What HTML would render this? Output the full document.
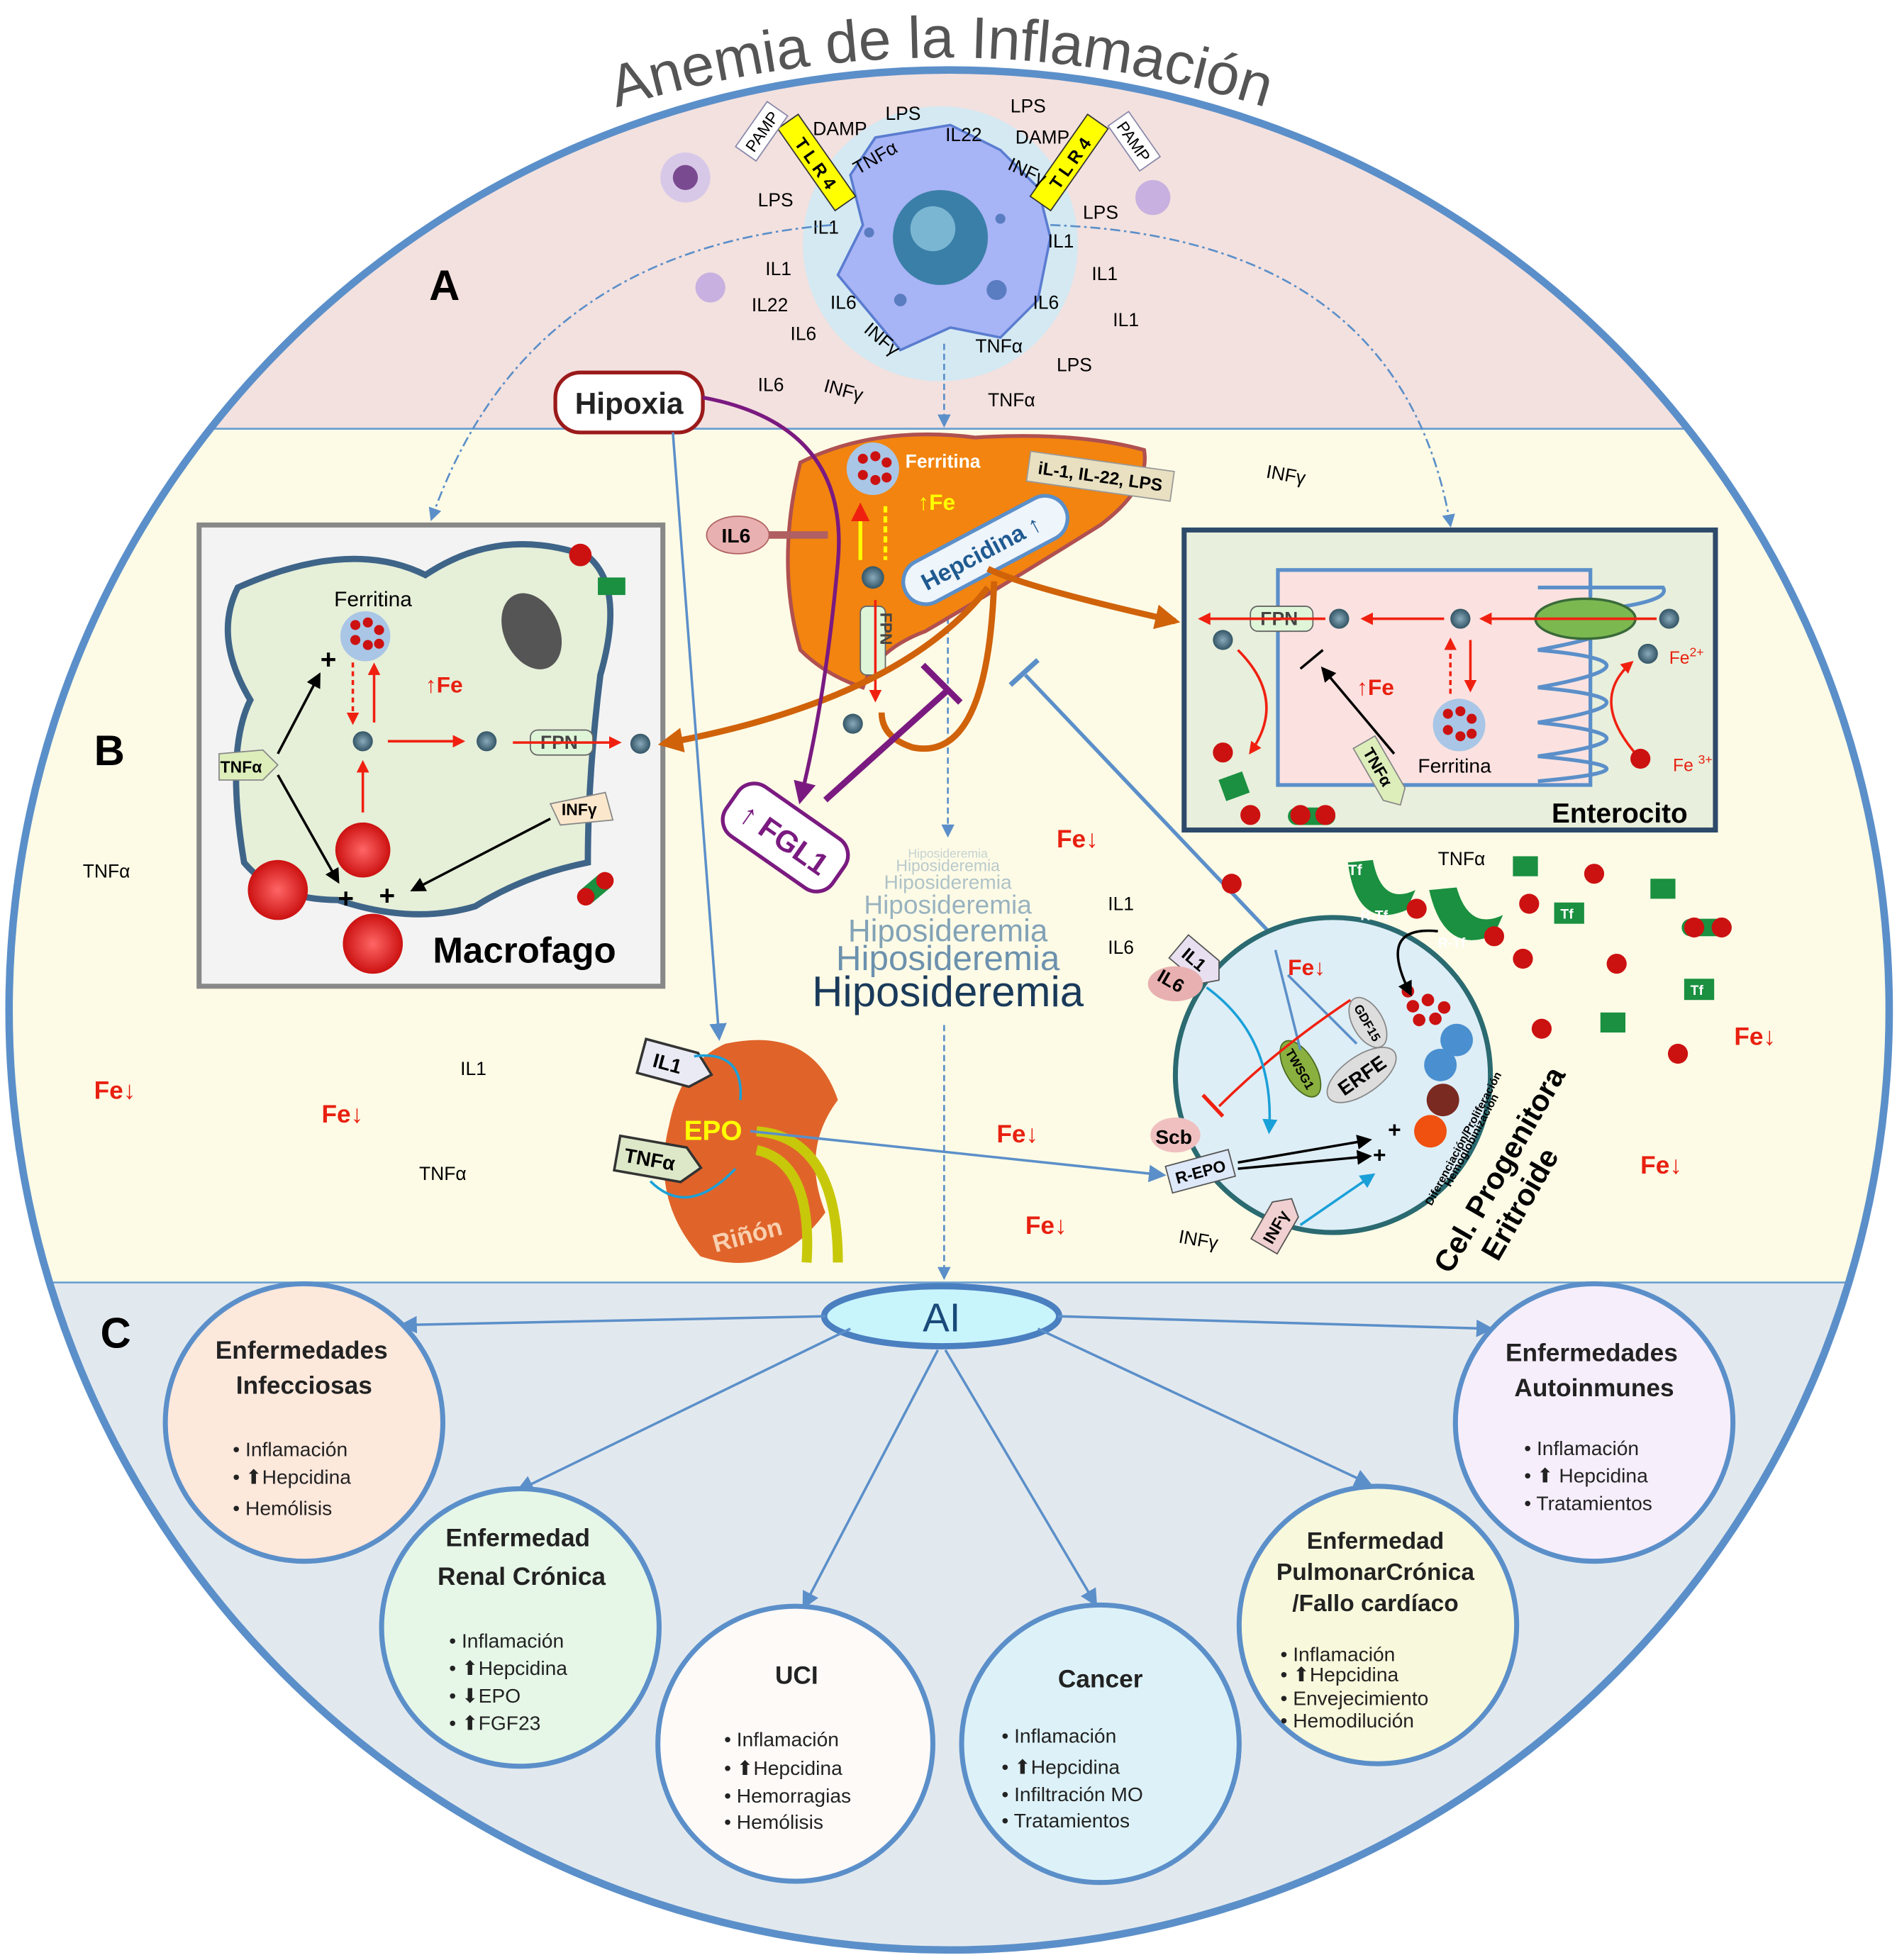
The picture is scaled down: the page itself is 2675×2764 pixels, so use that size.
<!DOCTYPE html>
<html><head><meta charset="utf-8"><style>
html,body{margin:0;padding:0;background:#fff}
svg{display:block}
text{font-family:"Liberation Sans",sans-serif}
</style></head><body>
<svg width="2675" height="2764" viewBox="0 0 1517 1568" xmlns="http://www.w3.org/2000/svg">
<defs>
<clipPath id="cc"><circle cx="759" cy="808" r="752"/></clipPath>
<marker id="ab" viewBox="0 0 10 10" refX="8" refY="5" markerWidth="7" markerHeight="7" orient="auto"><path d="M0,0L10,5L0,10z" fill="#5b8fc9"/></marker>
<marker id="ar" viewBox="0 0 10 10" refX="8" refY="5" markerWidth="5" markerHeight="5" orient="auto"><path d="M0,0L10,5L0,10z" fill="#f02010"/></marker>
<marker id="ak" viewBox="0 0 10 10" refX="8" refY="5" markerWidth="6" markerHeight="6" orient="auto"><path d="M0,0L10,5L0,10z" fill="#000"/></marker>
<marker id="ao" viewBox="0 0 10 10" refX="8" refY="5" markerWidth="4" markerHeight="4" orient="auto"><path d="M0,0L10,5L0,10z" fill="#d0620a"/></marker>
<marker id="ap" viewBox="0 0 10 10" refX="8" refY="5" markerWidth="6" markerHeight="6" orient="auto"><path d="M0,0L10,5L0,10z" fill="#7a1a80"/></marker>
<marker id="ac" viewBox="0 0 10 10" refX="8" refY="5" markerWidth="6" markerHeight="6" orient="auto"><path d="M0,0L10,5L0,10z" fill="#1aa0d8"/></marker>
<radialGradient id="rb"><stop offset="0" stop-color="#f66"/><stop offset="1" stop-color="#c11"/></radialGradient>
<radialGradient id="bl"><stop offset="0" stop-color="#8ab"/><stop offset="1" stop-color="#356"/></radialGradient>
<path id="arc" d="M480,90 Q759,2 1025,90"/>
</defs>
<rect width="1517" height="1568" fill="#fff"/>
<text font-size="47" fill="#555"><textPath href="#arc" startOffset="50%" text-anchor="middle">Anemia de la Inflamación</textPath></text>
<g clip-path="url(#cc)">
<rect x="0" y="0" width="1517" height="343" fill="#f3e1df"/>
<rect x="0" y="343" width="1517" height="683" fill="#fdfbe6"/>
<rect x="0" y="1026" width="1517" height="560" fill="#e2e9ee"/>
<line x1="0" y1="343" x2="1517" y2="343" stroke="#6a9fd0" stroke-width="1.5"/>
<line x1="0" y1="1026" x2="1517" y2="1026" stroke="#6a9fd0" stroke-width="1.5"/>
</g>
<circle cx="759" cy="808" r="752" fill="none" stroke="#5b8fc9" stroke-width="6"/>
<text x="343" y="240" font-size="34" font-weight="bold">A</text>
<text x="75" y="612" font-size="34" font-weight="bold">B</text>
<text x="80" y="1078" font-size="34" font-weight="bold">C</text>
<!-- immune cell -->
<circle cx="752" cy="195" r="110" fill="#bfefff" opacity=".6"/>
<path d="M700,110 L760,100 L800,120 L830,150 L840,190 L830,240 L800,270 L760,262 L720,280 L695,250 L670,220 L690,180 L680,140 Z" fill="#a7b4f5" stroke="#5a7cd0" stroke-width="2"/>
<circle cx="752" cy="190" r="38" fill="#3a7fa8"/>
<circle cx="746" cy="183" r="18" fill="#7ab6d2"/>
<circle cx="797" cy="232" r="8" fill="#5a7cc0"/><circle cx="720" cy="240" r="5" fill="#5a7cc0"/><circle cx="695" cy="186" r="4" fill="#5a7cc0"/><circle cx="800" cy="175" r="4" fill="#5a7cc0"/>
<circle cx="548" cy="142" r="20" fill="#d8c8e8"/><circle cx="548" cy="142" r="10" fill="#7a4a90"/>
<circle cx="922" cy="158" r="14" fill="#c8b0e0"/><circle cx="568" cy="230" r="12" fill="#c8b0e0"/>
<g transform="translate(653,130) rotate(55)"><rect x="-40" y="-10" width="80" height="20" fill="#ff0" stroke="#333"/><text x="0" y="6" font-size="14" font-weight="bold" text-anchor="middle">T L R 4</text></g>
<g transform="translate(855,130) rotate(-55)"><rect x="-40" y="-10" width="80" height="20" fill="#ff0" stroke="#333"/><text x="0" y="6" font-size="14" font-weight="bold" text-anchor="middle">T L R 4</text></g>
<g transform="translate(609,105) rotate(-55)"><rect x="-22" y="-10" width="44" height="20" fill="#fff" stroke="#88a"/><text x="0" y="5" font-size="13" text-anchor="middle">PAMP</text></g>
<g transform="translate(907,113) rotate(55)"><rect x="-22" y="-10" width="44" height="20" fill="#fff" stroke="#88a"/><text x="0" y="5" font-size="13" text-anchor="middle">PAMP</text></g>
<g font-size="15">
<text x="650" y="108">DAMP</text><text x="708" y="96">LPS</text><text x="756" y="113">IL22</text><text x="808" y="90">LPS</text><text x="812" y="115">DAMP</text>
<text x="686" y="140" transform="rotate(-30 686 140)">TNFα</text><text x="805" y="135" transform="rotate(25 805 135)">INFγ</text>
<text x="606" y="165">LPS</text><text x="650" y="187">IL1</text><text x="838" y="198">IL1</text><text x="866" y="175">LPS</text>
<text x="612" y="220">IL1</text><text x="601" y="249">IL22</text><text x="664" y="247">IL6</text><text x="826" y="247">IL6</text><text x="873" y="224">IL1</text>
<text x="632" y="272">IL6</text><text x="890" y="261">IL1</text><text x="690" y="265" transform="rotate(40 690 265)">INFγ</text><text x="780" y="282">TNFα</text><text x="845" y="297">LPS</text>
<text x="606" y="313">IL6</text><text x="658" y="313" transform="rotate(15 658 313)">INFγ</text><text x="790" y="325">TNFα</text><text x="1012" y="382" transform="rotate(10 1012 382)">INFγ</text>
<text x="66" y="702">TNFα</text><text x="368" y="860">IL1</text><text x="335" y="944">TNFα</text><text x="886" y="728">IL1</text><text x="886" y="763">IL6</text><text x="1150" y="692">TNFα</text><text x="942" y="994" transform="rotate(10 942 994)">INFγ</text>
</g>
<!-- dashed connectors -->
<path d="M665,180 Q420,200 345,415" fill="none" stroke="#5b8fc9" stroke-width="1.5" stroke-dasharray="8,3,2,3" marker-end="url(#ab)"/>
<path d="M840,180 Q1120,190 1160,420" fill="none" stroke="#5b8fc9" stroke-width="1.5" stroke-dasharray="8,3,2,3" marker-end="url(#ab)"/>
<line x1="755" y1="275" x2="755" y2="340" stroke="#5b8fc9" stroke-width="1.5" stroke-dasharray="5,3" marker-end="url(#ab)"/>
<line x1="758" y1="470" x2="758" y2="668" stroke="#5b8fc9" stroke-width="1.5" stroke-dasharray="5,3" marker-end="url(#ab)"/>
<line x1="755" y1="820" x2="755" y2="1022" stroke="#5b8fc9" stroke-width="1.5" stroke-dasharray="5,3" marker-end="url(#ab)"/>
<!-- macrophage box -->
<rect x="159" y="420" width="371" height="369" fill="#f3f3f3" stroke="#888" stroke-width="4"/>
<path d="M190,470 Q280,430 340,460 Q400,420 470,445 Q500,470 480,540 Q470,620 470,690 Q420,700 380,725 Q330,740 270,720 Q220,720 195,690 Q180,600 200,560 Q170,510 190,470Z" fill="#e6efd8" stroke="#3e6488" stroke-width="5"/>
<ellipse cx="425" cy="505" rx="22" ry="32" fill="#555" transform="rotate(-25 425 505)"/>
<circle cx="292" cy="509" r="20" fill="#a9c6e6"/><g fill="#c11"><circle cx="284" cy="500" r="4"/><circle cx="294" cy="498" r="4"/><circle cx="303" cy="504" r="4"/><circle cx="284" cy="512" r="4"/><circle cx="294" cy="516" r="4"/><circle cx="303" cy="515" r="4"/></g>
<text x="267" y="485" font-size="17">Ferritina</text>
<text x="340" y="554" font-size="18" font-weight="bold" fill="#e82010">↑Fe</text>
<circle cx="290" cy="593" r="8" fill="url(#bl)"/><circle cx="389" cy="593" r="8" fill="url(#bl)"/><circle cx="512" cy="595" r="8" fill="url(#bl)"/>
<rect x="424" y="584" width="50" height="20" rx="6" fill="#dff5d8" stroke="#666"/><text x="432" y="599" font-size="15" font-weight="bold" fill="#444">FPN</text>
<line x1="310" y1="593" x2="370" y2="593" stroke="#f02010" stroke-width="2" marker-end="url(#ar)"/>
<line x1="410" y1="594" x2="495" y2="594" stroke="#f02010" stroke-width="2" marker-end="url(#ar)"/>
<line x1="290" y1="650" x2="290" y2="610" stroke="#f02010" stroke-width="2" marker-end="url(#ar)"/>
<line x1="282" y1="530" x2="282" y2="578" stroke="#f02010" stroke-width="2" stroke-dasharray="4,3" marker-end="url(#ar)"/>
<line x1="299" y1="578" x2="299" y2="532" stroke="#f02010" stroke-width="2" marker-end="url(#ar)"/>
<circle cx="290" cy="680" r="22" fill="url(#rb)"/><circle cx="222" cy="712" r="24" fill="url(#rb)"/><circle cx="298" cy="755" r="24" fill="url(#rb)"/>
<circle cx="464" cy="444" r="9" fill="#c11"/><rect x="478" y="462" width="22" height="14" fill="#1a9040"/>
<path d="M175,603 L210,600 L222,612 L210,624 L175,624Z" fill="#ddeebb" stroke="#888"/><text x="176" y="618" font-size="13" font-weight="bold">TNFα</text>
<path d="M440,643 L484,634 L490,656 L448,660Z" fill="#fbe8cc" stroke="#888"/><text x="449" y="652" font-size="13" font-weight="bold">INFγ</text>
<line x1="222" y1="603" x2="255" y2="540" stroke="#000" stroke-width="2" marker-end="url(#ak)"/>
<line x1="222" y1="620" x2="270" y2="705" stroke="#000" stroke-width="2" marker-end="url(#ak)"/>
<line x1="440" y1="655" x2="330" y2="712" stroke="#000" stroke-width="2" marker-end="url(#ak)"/>
<text x="256" y="535" font-size="22" font-weight="bold">+</text><text x="270" y="726" font-size="22" font-weight="bold">+</text><text x="303" y="724" font-size="22" font-weight="bold">+</text>
<g transform="rotate(-40 476 711)"><rect x="460" y="704" width="32" height="14" rx="7" fill="#1a9040"/><circle cx="466" cy="711" r="7" fill="#c11"/><circle cx="486" cy="711" r="7" fill="#c11"/></g>
<text x="346" y="770" font-size="29" font-weight="bold">Macrofago</text>
<!-- enterocyte box -->
<rect x="947" y="424" width="425" height="240" fill="#e8efdc" stroke="#2e4a6a" stroke-width="4"/>
<rect x="1022" y="456" width="250" height="172" fill="#fbe2e0" stroke="#5b8fc9" stroke-width="3"/>
<path d="M1230,470 L1330,470 Q1340,485 1230,492 Q1340,500 1230,520 Q1340,530 1230,550 Q1340,560 1230,578 Q1340,590 1230,605 Q1340,615 1230,625" fill="none" stroke="#5b8fc9" stroke-width="3"/>
<ellipse cx="1268" cy="495" rx="40" ry="16" fill="#7cb850" stroke="#3a6a3a" stroke-width="2"/>
<circle cx="1335" cy="495" r="8" fill="url(#bl)"/><circle cx="1168" cy="495" r="8" fill="url(#bl)"/><circle cx="1071" cy="495" r="8" fill="url(#bl)"/><circle cx="978" cy="512" r="8" fill="url(#bl)"/><circle cx="1318" cy="523" r="8" fill="url(#bl)"/>
<rect x="1000" y="485" width="50" height="20" rx="6" fill="#dff5d8" stroke="#666"/><text x="1008" y="500" font-size="15" font-weight="bold" fill="#444">FPN</text>
<line x1="1325" y1="495" x2="1185" y2="495" stroke="#f02010" stroke-width="2" marker-end="url(#ar)"/>
<line x1="1155" y1="495" x2="1090" y2="495" stroke="#f02010" stroke-width="2" marker-end="url(#ar)"/>
<line x1="1060" y1="495" x2="960" y2="495" stroke="#f02010" stroke-width="2" marker-end="url(#ar)"/>
<line x1="1160" y1="555" x2="1160" y2="512" stroke="#f02010" stroke-width="2" stroke-dasharray="4,3" marker-end="url(#ar)"/>
<line x1="1176" y1="512" x2="1176" y2="552" stroke="#f02010" stroke-width="2" marker-end="url(#ar)"/>
<path d="M990,520 Q1030,560 1000,602" fill="none" stroke="#f02010" stroke-width="2" marker-end="url(#ar)"/>
<path d="M1310,605 Q1270,560 1305,530" fill="none" stroke="#f02010" stroke-width="2" marker-end="url(#ar)"/>
<circle cx="1167" cy="580" r="21" fill="#a9c6e6"/><g fill="#c11"><circle cx="1158" cy="571" r="4"/><circle cx="1168" cy="569" r="4"/><circle cx="1177" cy="575" r="4"/><circle cx="1158" cy="584" r="4"/><circle cx="1168" cy="589" r="4"/><circle cx="1177" cy="587" r="4"/></g>
<text x="1134" y="618" font-size="16">Ferritina</text>
<text x="1085" y="556" font-size="18" font-weight="bold" fill="#e82010">↑Fe</text>
<text x="1335" y="531" font-size="14" fill="#e82010">Fe<tspan font-size="10" dy="-6">2+</tspan></text>
<text x="1338" y="617" font-size="14" fill="#e82010">Fe <tspan font-size="10" dy="-6">3+</tspan></text>
<circle cx="1312" cy="607" r="8" fill="#c11"/><circle cx="978" cy="602" r="8" fill="#c11"/><circle cx="1000" cy="652" r="8" fill="#c11"/>
<rect x="1030" y="646" width="38" height="14" rx="7" fill="#1a9040"/><circle cx="1040" cy="652" r="8" fill="#c11"/><circle cx="1060" cy="652" r="8" fill="#c11"/>
<rect x="977" y="620" width="20" height="18" fill="#1a9040" transform="rotate(-20 987 629)"/>
<line x1="1115" y1="603" x2="1058" y2="535" stroke="#000" stroke-width="2" marker-end="url(#ak)"/>
<line x1="1040" y1="535" x2="1058" y2="520" stroke="#000" stroke-width="2"/>
<g transform="translate(1105,618) rotate(60)"><path d="M-28,-10 L20,-10 L30,0 L20,10 L-28,10Z" fill="#ddeebb" stroke="#888"/><text x="-22" y="5" font-size="13" font-weight="bold">TNFα</text></g>
<text x="1241" y="658" font-size="22" font-weight="bold">Enterocito</text>
<!-- liver -->
<path d="M640,370 Q700,340 780,350 Q860,345 915,360 Q920,390 880,420 Q800,470 740,505 Q700,520 690,550 Q660,540 640,520 Q620,450 640,370Z" fill="#f2840f" stroke="#b05050" stroke-width="3"/>
<circle cx="698" cy="375" r="21" fill="#a9c6e6"/><g fill="#c11"><circle cx="690" cy="367" r="4"/><circle cx="700" cy="365" r="4"/><circle cx="709" cy="370" r="4"/><circle cx="690" cy="380" r="4"/><circle cx="700" cy="384" r="4"/><circle cx="709" cy="382" r="4"/></g>
<text x="724" y="374" font-size="15" font-weight="bold" fill="#fff">Ferritina</text>
<text x="734" y="408" font-size="18" font-weight="bold" fill="#ff0">↑Fe</text>
<line x1="688" y1="448" x2="688" y2="405" stroke="#ff0" stroke-width="3" marker-end="url(#ar)"/>
<line x1="708" y1="405" x2="708" y2="448" stroke="#ff0" stroke-width="3" stroke-dasharray="5,3"/>
<circle cx="698" cy="462" r="9" fill="url(#bl)"/>
<rect x="688" y="485" width="20" height="55" rx="5" fill="#dff5d8" stroke="#666"/><text x="704" y="490" font-size="13" font-weight="bold" fill="#444" transform="rotate(90 704 490)">FPN</text>
<line x1="700" y1="480" x2="700" y2="560" stroke="#f02010" stroke-width="2" marker-end="url(#ar)"/>
<circle cx="682" cy="579" r="8" fill="url(#bl)"/>
<g transform="translate(880,381) rotate(8)"><rect x="-58" y="-12" width="116" height="24" fill="#e8e0c0" stroke="#999"/><text x="0" y="5" font-size="14" font-weight="bold" text-anchor="middle">iL-1, IL-22, LPS</text></g>
<ellipse cx="590" cy="428" rx="25" ry="15" fill="#e8b0b0" stroke="#b06060"/><text x="577" y="434" font-size="16" font-weight="bold">IL6</text>
<line x1="615" y1="428" x2="662" y2="428" stroke="#b06060" stroke-width="6"/>
<g transform="translate(788,440) rotate(-28)"><rect x="-72" y="-18" width="144" height="36" rx="18" fill="#eef5fb" stroke="#5b8fc9" stroke-width="3"/><text x="-4" y="7" font-size="19" font-weight="bold" fill="#1f5a90" text-anchor="middle">Hepcidina ↑</text></g>
<!-- orange arrows -->
<path d="M790,455 Q820,470 940,497" fill="none" stroke="#d0620a" stroke-width="5" marker-end="url(#ao)"/>
<path d="M790,470 Q720,560 530,595" fill="none" stroke="#d0620a" stroke-width="5" marker-end="url(#ao)"/>
<path d="M795,465 Q790,610 730,598 Q705,590 705,570" fill="none" stroke="#d0620a" stroke-width="5"/>
<!-- hipoxia -->
<rect x="444" y="298" width="118" height="48" rx="20" fill="#fff" stroke="#9b1a1a" stroke-width="3"/>
<text x="503" y="331" font-size="24" font-weight="bold" text-anchor="middle" fill="#222">Hipoxia</text>
<path d="M562,318 Q680,340 670,450 Q660,560 640,640" fill="none" stroke="#7a1a80" stroke-width="3" marker-end="url(#ap)"/>
<line x1="538" y1="346" x2="575" y2="830" stroke="#5b8fc9" stroke-width="2" marker-end="url(#ab)"/>
<line x1="660" y1="640" x2="758" y2="552" stroke="#7a1a80" stroke-width="5"/><line x1="738" y1="532" x2="768" y2="562" stroke="#7a1a80" stroke-width="5"/>
<g transform="translate(628,670) rotate(35)"><rect x="-52" y="-24" width="104" height="48" rx="16" fill="#fff" stroke="#7a1a80" stroke-width="3"/><text x="0" y="10" font-size="24" font-weight="bold" fill="#7a1a80" text-anchor="middle">↑ FGL1</text></g>
<line x1="1040" y1="772" x2="820" y2="540" stroke="#5b8fc9" stroke-width="3"/><line x1="808" y1="548" x2="830" y2="528" stroke="#5b8fc9" stroke-width="4"/>
<!-- hiposideremia -->
<g text-anchor="middle" fill="#1f5a90">
<text x="758" y="686" font-size="10" opacity=".25">Hiposideremia</text>
<text x="758" y="697" font-size="13" opacity=".3">Hiposideremia</text>
<text x="758" y="711" font-size="16" opacity=".35">Hiposideremia</text>
<text x="758" y="731" font-size="21" opacity=".45">Hiposideremia</text>
<text x="758" y="753" font-size="25" opacity=".55">Hiposideremia</text>
<text x="758" y="776" font-size="28" opacity=".65">Hiposideremia</text>
<text x="758" y="805" font-size="34" fill="#1a3a5a">Hiposideremia</text>
</g>
<!-- kidney -->
<path d="M580,835 Q650,820 670,880 Q640,920 660,970 Q620,1025 560,1005 Q520,960 535,900 Q545,850 580,835Z" fill="#e0642a"/>
<path d="M605,905 Q670,910 670,1010 M605,920 Q650,930 645,1010" fill="none" stroke="#c8c80a" stroke-width="8"/>
<text x="547" y="912" font-size="22" font-weight="bold" fill="#ff0">EPO</text>
<text x="572" y="1002" font-size="20" font-weight="bold" fill="#f8d0b0" transform="rotate(-15 572 1002)">Riñón</text>
<g transform="translate(540,852) rotate(15)"><path d="M-28,-14 L15,-14 L30,0 L15,14 L-28,14Z" fill="#eaeaf5" stroke="#333" stroke-width="2"/><text x="-18" y="6" font-size="16" font-weight="bold">IL1</text></g>
<g transform="translate(525,928) rotate(10)"><path d="M-32,-14 L22,-14 L36,0 L22,14 L-32,14Z" fill="#dde8c8" stroke="#333" stroke-width="2"/><text x="-26" y="6" font-size="16" font-weight="bold">TNFα</text></g>
<path d="M555,845 Q595,840 592,880" fill="none" stroke="#1aa0d8" stroke-width="2"/><path d="M520,945 Q550,975 588,935" fill="none" stroke="#1aa0d8" stroke-width="2"/>
<line x1="600" y1="905" x2="930" y2="940" stroke="#5b8fc9" stroke-width="2" marker-end="url(#ab)"/>
<!-- erythroid cell -->
<circle cx="1066" cy="860" r="126" fill="#deeef6" stroke="#2a6a70" stroke-width="4"/>
<g fill="#c11"><circle cx="1130" cy="805" r="5"/><circle cx="1142" cy="800" r="5"/><circle cx="1155" cy="806" r="5"/><circle cx="1135" cy="816" r="5"/><circle cx="1148" cy="815" r="5"/><circle cx="1126" cy="793" r="5"/></g>
<path d="M1150,745 Q1100,740 1128,795" fill="none" stroke="#000" stroke-width="2" marker-end="url(#ak)"/>
<g fill="#1a9040"><path d="M1078,690 Q1085,745 1125,728 L1132,712 Q1105,725 1098,688Z"/><path d="M1143,712 Q1155,765 1195,748 L1202,732 Q1175,745 1165,710Z"/></g>
<text x="1078" y="700" font-size="12" font-weight="bold" fill="#fff">Tf</text><text x="1088" y="736" font-size="11" font-weight="bold" fill="#fff">R-Tf</text><text x="1150" y="758" font-size="11" font-weight="bold" fill="#fff">R-Tf</text>
<circle cx="1133" cy="727" r="8" fill="#c11"/><circle cx="1195" cy="749" r="8" fill="#c11"/><circle cx="1218" cy="767" r="8" fill="#c11"/>
<circle cx="1165" cy="832" r="13" fill="#4a90d0"/><circle cx="1152" cy="852" r="13" fill="#4a90d0"/><circle cx="1154" cy="880" r="13" fill="#7a2a20"/><circle cx="1144" cy="905" r="13" fill="#f05010"/>
<text x="1145" y="965" font-size="9" font-weight="bold" transform="rotate(-62 1145 965)">Diferenciación/Proliferación</text>
<text x="1160" y="950" font-size="9" font-weight="bold" transform="rotate(-62 1160 950)">Hemoglobinización</text>
<g transform="translate(1094,818) rotate(60)"><ellipse rx="22" ry="12" fill="#ddd" stroke="#888"/><text x="0" y="4" font-size="10" font-weight="bold" text-anchor="middle">GDF15</text></g>
<g transform="translate(1040,855) rotate(60)"><ellipse rx="25" ry="12" fill="#8ab040" stroke="#4a6a20"/><text x="0" y="4" font-size="10" font-weight="bold" text-anchor="middle">TWSG1</text></g>
<g transform="translate(1089,860) rotate(-35)"><ellipse rx="32" ry="15" fill="#ddd" stroke="#888"/><text x="0" y="6" font-size="16" font-weight="bold" text-anchor="middle">ERFE</text></g>
<line x1="1040" y1="840" x2="1020" y2="760" stroke="#5b8fc9" stroke-width="2"/><line x1="1085" y1="835" x2="1030" y2="780" stroke="#5b8fc9" stroke-width="2"/>
<text x="1030" y="780" font-size="18" font-weight="bold" fill="#e82010">Fe↓</text>
<path d="M1080,800 Q1020,840 975,885" fill="none" stroke="#f02010" stroke-width="2"/><line x1="962" y1="876" x2="978" y2="893" stroke="#f02010" stroke-width="3"/>
<ellipse cx="940" cy="908" rx="20" ry="14" fill="#f0c0c0"/><text x="924" y="915" font-size="16" font-weight="bold">Scb</text>
<g transform="translate(960,937) rotate(-15)"><rect x="-26" y="-11" width="52" height="22" fill="#dde8f8" stroke="#555"/><text x="0" y="5" font-size="13" font-weight="bold" text-anchor="middle">R-EPO</text></g>
<line x1="990" y1="930" x2="1095" y2="912" stroke="#000" stroke-width="2" marker-end="url(#ak)"/>
<line x1="990" y1="935" x2="1095" y2="925" stroke="#000" stroke-width="2" marker-end="url(#ak)"/>
<text x="1110" y="910" font-size="18" font-weight="bold">+</text><text x="1098" y="930" font-size="18" font-weight="bold">+</text>
<path d="M1040,980 L1098,940" stroke="#1aa0d8" stroke-width="2" marker-end="url(#ac)"/>
<path d="M965,790 Q1020,830 1015,905" fill="none" stroke="#1aa0d8" stroke-width="2" marker-end="url(#ac)"/>
<g transform="translate(958,770) rotate(40)"><path d="M-20,-12 L12,-12 L22,0 L12,12 L-20,12Z" fill="#e8e0f0" stroke="#555"/><text x="-14" y="5" font-size="14" font-weight="bold">IL1</text></g>
<ellipse cx="940" cy="787" rx="22" ry="14" fill="#e8b0b0"/><text x="925" y="792" font-size="15" font-weight="bold" transform="rotate(30 940 787)">IL6</text>
<g transform="translate(1022,978) rotate(-60)"><path d="M-22,-12 L12,-12 L22,0 L12,12 L-22,12Z" fill="#f0d0d0" stroke="#555"/><text x="-18" y="5" font-size="13" font-weight="bold">INFγ</text></g>
<text x="1160" y="1020" font-size="24" font-weight="bold" transform="rotate(-60 1160 1020)">Cel. Progenitora</text>
<text x="1198" y="1010" font-size="24" font-weight="bold" transform="rotate(-60 1198 1010)">Eritroide</text>
<!-- scattered -->
<g fill="#c11"><circle cx="985" cy="707" r="8"/><circle cx="1223" cy="723" r="8"/><circle cx="1275" cy="699" r="8"/><circle cx="1293" cy="771" r="8"/><circle cx="1233" cy="823" r="8"/><circle cx="1342" cy="843" r="8"/></g>
<g fill="#1a9040"><rect x="1210" y="685" width="20" height="16"/><rect x="1320" y="703" width="20" height="16"/><rect x="1280" y="810" width="20" height="16"/><rect x="1243" y="722" width="24" height="17"/><rect x="1347" y="783" width="24" height="17"/></g>
<text x="1248" y="735" font-size="11" font-weight="bold" fill="#fff">Tf</text><text x="1352" y="796" font-size="11" font-weight="bold" fill="#fff">Tf</text>
<rect x="1345" y="735" width="40" height="14" rx="7" fill="#1a9040"/><circle cx="1355" cy="742" r="8" fill="#c11"/><circle cx="1377" cy="742" r="8" fill="#c11"/>
<g font-size="20" font-weight="bold" fill="#e82010">
<text x="845" y="678">Fe↓</text><text x="75" y="879">Fe↓</text><text x="257" y="898">Fe↓</text><text x="797" y="914">Fe↓</text><text x="820" y="987">Fe↓</text><text x="1387" y="836">Fe↓</text><text x="1312" y="939">Fe↓</text>
</g>
<!-- section C -->
<ellipse cx="753" cy="1053" rx="94" ry="24" fill="#c8f4fc" stroke="#4a7fc0" stroke-width="5"/>
<text x="753" y="1065" font-size="32" text-anchor="middle" fill="#1a4a7a">AI</text>
<g stroke="#5b8fc9" stroke-width="2" fill="none" marker-end="url(#ab)">
<line x1="660" y1="1053" x2="322" y2="1060"/><line x1="846" y1="1053" x2="1192" y2="1063"/>
<line x1="680" y1="1063" x2="415" y2="1192"/><line x1="830" y1="1063" x2="1095" y2="1187"/>
<line x1="750" y1="1080" x2="643" y2="1285"/><line x1="756" y1="1080" x2="876" y2="1283"/>
</g>
<g stroke="#5b8fc9" stroke-width="4">
<circle cx="243" cy="1138" r="111" fill="#fde8dc"/>
<circle cx="416" cy="1302" r="111" fill="#e6f7e8"/>
<circle cx="636" cy="1395" r="110" fill="#fefaf8"/>
<circle cx="880" cy="1395" r="111" fill="#ddf2f8"/>
<circle cx="1102" cy="1300" r="111" fill="#f8f8dc"/>
<circle cx="1275" cy="1138" r="111" fill="#f6eefb"/>
</g>
<g font-size="20" font-weight="bold" text-anchor="middle" fill="#222">
<text x="241" y="1087">Enfermedades</text><text x="243" y="1115">Infecciosas</text>
<text x="414" y="1237">Enfermedad</text><text x="417" y="1268">Renal Crónica</text>
<text x="637" y="1347">UCI</text>
<text x="880" y="1350">Cancer</text>
<text x="1100" y="1239" font-size="19">Enfermedad</text><text x="1100" y="1264" font-size="19">PulmonarCrónica</text><text x="1100" y="1289" font-size="19">/Fallo cardíaco</text>
<text x="1273" y="1089">Enfermedades</text><text x="1275" y="1117">Autoinmunes</text>
</g>
<g font-size="16" fill="#222">
<text x="186" y="1165">•   Inflamación</text><text x="186" y="1187">•  ⬆Hepcidina</text><text x="186" y="1212">•   Hemólisis</text>
<text x="359" y="1318">•   Inflamación</text><text x="359" y="1340">•  ⬆Hepcidina</text><text x="359" y="1362">•  ⬇EPO</text><text x="359" y="1384">•  ⬆FGF23</text>
<text x="579" y="1397">•   Inflamación</text><text x="579" y="1420">•  ⬆Hepcidina</text><text x="579" y="1442">•   Hemorragias</text><text x="579" y="1463">•   Hemólisis</text>
<text x="801" y="1394">•   Inflamación</text><text x="801" y="1419">•  ⬆Hepcidina</text><text x="801" y="1441">•   Infiltración MO</text><text x="801" y="1462">•   Tratamientos</text>
<text x="1024" y="1329">•   Inflamación</text><text x="1024" y="1345">•  ⬆Hepcidina</text><text x="1024" y="1364">•   Envejecimiento</text><text x="1024" y="1382">•   Hemodilución</text>
<text x="1219" y="1164">•   Inflamación</text><text x="1219" y="1186">•  ⬆ Hepcidina</text><text x="1219" y="1208">•   Tratamientos</text>
</g>
</svg>
</body></html>
